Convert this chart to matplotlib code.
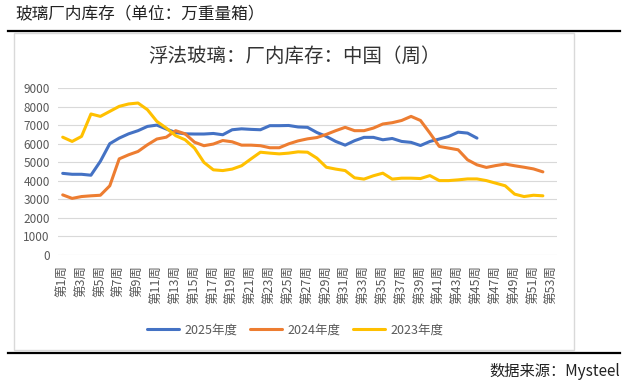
import matplotlib
matplotlib.use("Agg")
import matplotlib.pyplot as plt
from matplotlib.patches import Rectangle
from matplotlib.lines import Line2D

plt.rcParams['font.family'] = ['Noto Sans CJK SC', 'DejaVu Sans']

weeks = list(range(1, 54))
week_labels = ["第%d周" % w for w in weeks]

s2025 = [4400, 4350, 4350, 4300, 5050, 6000, 6300, 6530, 6700, 6930,
         7000, 6790, 6600, 6530, 6520, 6520, 6550, 6480, 6750, 6800,
         6770, 6750, 6970, 6970, 6980, 6900, 6880, 6600, 6390, 6120,
         5920, 6160, 6340, 6340, 6210, 6280, 6120, 6070, 5900, 6120,
         6250, 6390, 6620, 6570, 6300]
s2024 = [3240, 3050, 3150, 3190, 3220, 3730, 5180, 5400, 5580, 5940,
         6250, 6350, 6700, 6530, 6080, 5890, 5980, 6170, 6100, 5920,
         5920, 5890, 5780, 5780, 5990, 6150, 6260, 6330, 6500, 6700,
         6880, 6700, 6700, 6840, 7060, 7130, 7250, 7470, 7250, 6570,
         5850, 5760, 5670, 5130, 4860, 4720, 4820, 4900, 4810, 4730,
         4640, 4480]
s2023 = [6350, 6120, 6390, 7600, 7470, 7740, 8010, 8140, 8190, 7830,
         7200, 6840, 6430, 6210, 5760, 4990, 4590, 4550, 4630, 4810,
         5180, 5540, 5490, 5450, 5490, 5560, 5540, 5220, 4730, 4630,
         4550, 4160, 4090, 4270, 4410, 4090, 4140, 4140, 4120, 4280,
         4010, 4010, 4050, 4100, 4100, 4010, 3870, 3730, 3280, 3150,
         3220, 3190]

series = [("2025年度", s2025, "#4472C4"),
          ("2024年度", s2024, "#ED7D31"),
          ("2023年度", s2023, "#FFC000")]

W, H = 629, 387
fig = plt.figure(figsize=(W / 100, H / 100), dpi=100)

def fx(px):
    return px / W

def fy(py):
    return 1 - py / H

# header / footer
fig.text(fx(15), fy(14), "玻璃厂内库存（单位：万重量箱）", fontsize=12,
         color="#222222", va="center", ha="left")
fig.add_artist(Line2D([fx(8), fx(620)], [fy(31), fy(31)], color="black", lw=1.6))
fig.add_artist(Line2D([fx(8), fx(620)], [fy(353), fy(353)], color="black", lw=1.6))
fig.text(fx(620), fy(372), "数据来源：Mysteel", fontsize=11,
         color="#222222", va="center", ha="right")

# chart box
fig.patches.append(Rectangle((fx(14), fy(350)), fx(574) - fx(14), fy(33) - fy(350),
                             transform=fig.transFigure, fill=False,
                             edgecolor="#d9d9d9", lw=1.0))
fig.text(fx(294), fy(56), "浮法玻璃：厂内库存：中国（周）", fontsize=14,
         color="#333333", va="center", ha="center")

ax = fig.add_axes([fx(58), fy(255), fx(557) - fx(58), fy(88) - fy(255)])
for name, vals, col in series:
    ax.plot(weeks[:len(vals)], vals, color=col, lw=2.2, label=name,
            solid_capstyle="round", solid_joinstyle="round")

ax.set_xlim(0.5, 53.5)
ax.set_ylim(0, 9000)
ax.set_yticks(range(0, 9001, 1000))
ax.set_xticks(weeks[::2])
ax.set_xticklabels(week_labels[::2], rotation=90)
ax.tick_params(axis="both", length=0, labelsize=8.5, colors="#595959")
ax.tick_params(axis="x", pad=7, labelsize=9)
ax.tick_params(axis="y", pad=6)
ax.grid(axis="y", color="#d9d9d9", lw=0.8)
ax.set_axisbelow(True)
for sp in ax.spines.values():
    sp.set_visible(False)

leg = ax.legend(loc="center", bbox_to_anchor=(0.475, (fy(330) - fy(255)) / (fy(88) - fy(255))),
                ncol=3, frameon=False, fontsize=9, handlelength=2.6,
                columnspacing=1.0, handletextpad=0.4)
for t in leg.get_texts():
    t.set_color("#595959")

fig.savefig("out.png", dpi=100)
